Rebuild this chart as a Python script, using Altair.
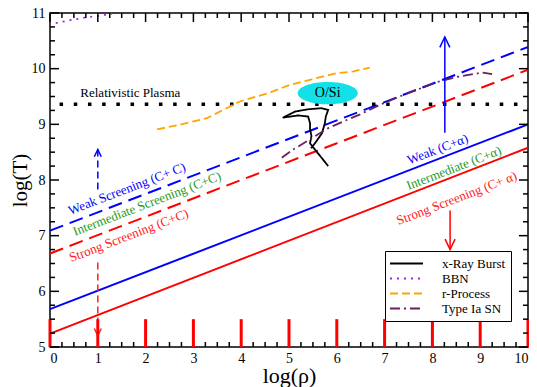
import altair as alt
import pandas as pd

FONT = "Liberation Serif"

# straight screening boundaries (log rho = 0 .. 10)
rho_ends = [0, 10]
weak_ca = [5.68, 9.00]
strong_ca = [5.24, 8.58]
weak_cc = [7.09, 10.39]
strong_cc = [6.68, 9.98]

plasma_rho = [0.2, 9.95]
plasma_T = [9.36, 9.36]

series_names = ["x-Ray Burst", "BBN", "r-Process", "Type Ia SN"]
series_colors = ["#000000", "#a020f0", "#ffa500", "#6b1f5e"]
series_dashes = [[1, 0], [2, 5], [8, 4], [10, 4, 2, 4]]

xray_rho = [5.82, 5.69, 5.54, 5.44, 5.47, 5.44, 5.44, 5.40, 5.19, 4.87, 5.13,
            5.40, 5.68, 5.82, 5.77, 5.75, 5.69, 5.56, 5.46]
xray_T = [8.25, 8.39, 8.55, 8.66, 8.79, 8.91, 9.02, 9.14, 9.16, 9.12, 9.23,
          9.27, 9.29, 9.26, 9.14, 9.02, 8.84, 8.68, 8.57]
bbn_rho = [0.12, 0.42, 0.75, 1.05, 1.30]
bbn_T = [10.82, 10.87, 10.92, 10.95, 10.99]
rproc_rho = [2.24, 2.7, 3.28, 3.97, 4.60, 5.02, 5.44, 5.72, 6.0, 6.35, 6.49, 6.69]
rproc_T = [8.91, 8.99, 9.11, 9.41, 9.57, 9.71, 9.80, 9.86, 9.92, 9.95, 9.98, 10.02]
sn_rho = [4.85, 5.09, 5.44, 5.79, 6.13, 6.49, 6.9, 7.4, 8.1, 8.5, 9.05, 9.25]
sn_T = [8.40, 8.55, 8.73, 8.92, 9.05, 9.18, 9.35, 9.53, 9.76, 9.85, 9.93, 9.90]

label_text = ["Weak Screening (C+ C)", "Intermediate Screening (C+C)",
              "Strong Screening (C+C)", "Weak (C+\u03b1)", "Intermediate (C+\u03b1)",
              "Strong Screening (C+ \u03b1)"]
label_rho = [1.61, 2.03, 1.65, 8.11, 8.45, 8.51]
label_T = [7.84, 7.57, 7.00, 8.55, 8.21, 7.67]
label_color = ["#0000ff", "#1e9a1e", "#ff2020", "#0000ff", "#1e9a1e", "#ff2020"]

arrow_rho = [1.0, 1.0, 8.26, 8.37]
arrow_T0 = [7.83, 6.52, 8.85, 7.45]
arrow_T1 = [8.55, 5.20, 10.57, 6.75]
arrow_color = ["#0000ff", "#ff2020", "#0000ff", "#ff0000"]
arrow_dashed = [True, True, False, False]
arrow_up = [True, False, True, False]
arrow_head = [49, 49, 100, 100]

ellipse_rho = [5.81]
ellipse_T = [9.56]

ints_x = list(range(0, 11))
quarters_x = [i / 4 for i in range(41) if i % 4]
ints_y = list(range(5, 12))
quarters_y = [5 + i / 4 for i in range(25) if i % 4]

W, H = 478, 334
X_MIN, X_MAX, Y_MIN, Y_MAX = 0, 10, 5, 11
XS = alt.Scale(domain=[X_MIN, X_MAX], nice=False, zero=False)
YS = alt.Scale(domain=[Y_MIN, Y_MAX], nice=False, zero=False)
TX = (X_MAX - X_MIN) / W
TY = (Y_MAX - Y_MIN) / H

X_AX = alt.Axis(orient="bottom", values=ints_x, ticks=False, domain=False, grid=False,
                labelFontSize=14, labelPadding=4, format="d", title="log(\u03c1)",
                titleFontSize=22, titlePadding=0)
Y_AX = alt.Axis(orient="left", values=ints_y, ticks=False, domain=False, grid=False,
                labelFontSize=14, labelPadding=5, format="d", title="log(T)",
                titleFontSize=21, titlePadding=1)


def X(f="x"):
    return alt.X(f"{f}:Q", scale=XS, axis=X_AX)


def Y(f="y"):
    return alt.Y(f"{f}:Q", scale=YS, axis=Y_AX)


def line_layer(xs, ys, color, dash=None, width=2.0):
    df = pd.DataFrame({"x": xs, "y": ys})
    kw = dict(color=color, strokeWidth=width)
    if dash:
        kw["strokeDash"] = dash
    return alt.Chart(df).mark_line(**kw).encode(x=X(), y=Y())


def xticks(values, edge, length, color="black", width=1.5):
    df = pd.DataFrame({"x": values, "y": [edge] * len(values),
                       "y2": [edge + length] * len(values)})
    return alt.Chart(df).mark_rule(color=color, strokeWidth=width).encode(
        x=X(), y=Y(), y2="y2:Q")


def yticks(values, edge, length):
    df = pd.DataFrame({"y": values, "x": [edge] * len(values),
                       "x2": [edge + length] * len(values)})
    return alt.Chart(df).mark_rule(color="black", strokeWidth=1.5).encode(
        y=Y(), x=X(), x2="x2:Q")


layers = [
    line_layer(rho_ends, weak_ca, "#0000ff"),
    line_layer(rho_ends, strong_ca, "#ff0000"),
    line_layer(rho_ends, weak_cc, "#0000ff", [14, 7]),
    line_layer(rho_ends, strong_cc, "#ff0000", [14, 7]),
    line_layer(plasma_rho, plasma_T, "black", [3.5, 10.7], 3.5),
]

layers.append(alt.Chart(pd.DataFrame({"x": ellipse_rho, "y": ellipse_T})).mark_point(
    shape="M -1 0 A 1 0.37 0 1 0 1 0 A 1 0.37 0 1 0 -1 0 Z", size=3600, filled=True,
    color="#14e0e8", opacity=1).encode(x=X(), y=Y()))
layers.append(alt.Chart(pd.DataFrame({"x": ellipse_rho, "y": ellipse_T, "t": ["O/Si"]})).mark_text(
    font=FONT, fontSize=14, color="black").encode(x=X(), y=Y(), text="t:N"))

rows = []
for name, xs, ys in [("x-Ray Burst", xray_rho, xray_T), ("BBN", bbn_rho, bbn_T),
                     ("r-Process", rproc_rho, rproc_T), ("Type Ia SN", sn_rho, sn_T)]:
    for i, (a, b) in enumerate(zip(xs, ys)):
        rows.append({"series": name, "x": a, "y": b, "i": i})
sdf = pd.DataFrame(rows)
leg = dict(orient="none", legendX=335, legendY=238, title=None,
           symbolType="M -2.54 0 L 2.54 0", symbolSize=169, symbolStrokeWidth=2,
           symbolOffset=9, labelOffset=28, labelFont=FONT, labelFontSize=13,
           strokeColor="black", fillColor="white", padding=5, rowPadding=0,
           cornerRadius=0, labelColor="black")
layers.append(alt.Chart(sdf).mark_line(strokeWidth=1.8).encode(
    x=X(), y=Y(),
    color=alt.Color("series:N", scale=alt.Scale(domain=series_names, range=series_colors),
                    legend=alt.Legend(**leg)),
    strokeDash=alt.StrokeDash("series:N", scale=alt.Scale(domain=series_names, range=series_dashes),
                              legend=alt.Legend(**leg)),
    detail="series:N",
    order="i:Q"))

layers.append(alt.Chart(pd.DataFrame({"x": label_rho, "y": label_T, "t": label_text,
                                      "c": label_color})).mark_text(
    font=FONT, fontSize=13, angle=339).encode(
    x=X(), y=Y(), text="t:N", color=alt.Color("c:N", scale=None)))
layers.append(alt.Chart(pd.DataFrame({"x": [1.68], "y": [9.57], "t": ["Relativistic Plasma"]})).mark_text(
    font=FONT, fontSize=13, color="black").encode(x=X(), y=Y(), text="t:N"))

adf = pd.DataFrame({"x": arrow_rho, "y0": arrow_T0, "y1": arrow_T1, "c": arrow_color,
                    "dashed": arrow_dashed, "up": arrow_up, "s": arrow_head})
layers.append(alt.Chart(adf[adf.dashed]).mark_rule(strokeWidth=1.5, strokeDash=[7, 4]).encode(
    x=X(), y=Y("y0"), y2="y1:Q", color=alt.Color("c:N", scale=None)))
layers.append(alt.Chart(adf[~adf.dashed]).mark_rule(strokeWidth=1.5).encode(
    x=X(), y=Y("y0"), y2="y1:Q", color=alt.Color("c:N", scale=None)))
layers.append(alt.Chart(adf[adf.up]).mark_point(
    shape="M -1 2.1 L 0 0 L 1 2.1", filled=False, strokeWidth=1.5, opacity=1).encode(
    x=X(), y=Y("y1"), stroke=alt.Color("c:N", scale=None), size=alt.Size("s:Q", scale=None)))
layers.append(alt.Chart(adf[~adf.up]).mark_point(
    shape="M -1 -2.1 L 0 0 L 1 -2.1", filled=False, strokeWidth=1.5, opacity=1).encode(
    x=X(), y=Y("y1"), stroke=alt.Color("c:N", scale=None), size=alt.Size("s:Q", scale=None)))

# diagnostic: bottom major ticks drawn red and long
layers += [
    xticks(ints_x, Y_MIN, 0.5, "red", 3), xticks(quarters_x, Y_MIN, 5 * TY),
    xticks(ints_x, Y_MAX, -9 * TY), xticks(quarters_x, Y_MAX, -5 * TY),
    yticks(ints_y, X_MIN, 9 * TX), yticks(quarters_y, X_MIN, 5 * TX),
    yticks(ints_y, X_MAX, -9 * TX), yticks(quarters_y, X_MAX, -5 * TX),
]

chart = alt.layer(*layers).properties(
    width=W, height=H,
    autosize=alt.AutoSizeParams(type="none"),
    padding={"left": 42, "top": 5, "right": 1, "bottom": 40},
).configure_axis(
    labelFont=FONT, titleFont=FONT, titleFontWeight="normal", labelColor="black",
    titleColor="black", grid=False
).configure_view(stroke="black", strokeWidth=1.5)

chart.save("out.html", embed_options={"renderer": "svg", "actions": False})
